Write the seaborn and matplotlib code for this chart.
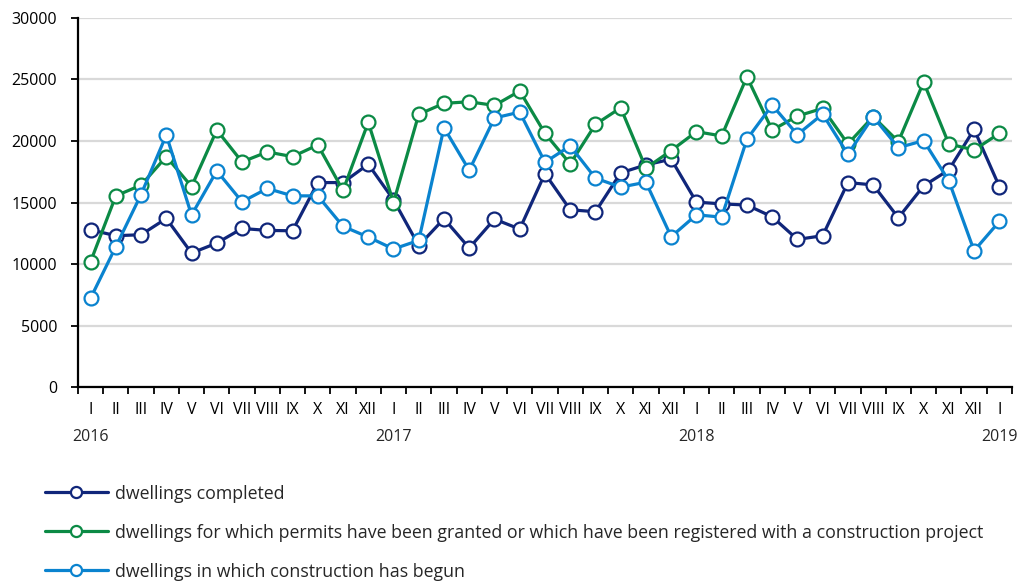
import matplotlib
matplotlib.use("Agg")
import matplotlib.pyplot as plt
import seaborn as sns
import pandas as pd
import numpy as np

sns.set_theme(style="white")
plt.rcParams["font.family"] = ["Open Sans", "DejaVu Sans"]

months = ["I", "II", "III", "IV", "V", "VI", "VII", "VIII", "IX", "X", "XI", "XII"] * 3 + ["I"]
years = ["2016", "2017", "2018", "2019"]

completed = [12780, 12300, 12380, 13700, 10890, 11700, 12890, 12730, 12700, 16620, 16620, 18110,
             15220, 11490, 13680, 11300, 13650, 12840, 17350, 14410, 14250, 17410, 18060, 18520,
             15030, 14890, 14790, 13840, 12000, 12300, 16620, 16430, 13760, 16350, 17650, 20950,
             16300]
permits = [10190, 15540, 16410, 18730, 16300, 20890, 18300, 19110, 18730, 19680, 15980, 21520,
           15000, 22170, 23060, 23190, 22890, 24060, 20620, 18140, 21350, 22700, 17790, 19220,
           20760, 20410, 25220, 20890, 22030, 22650, 19760, 21980, 19950, 24790, 19760, 19270,
           20620]
begun = [7220, 11410, 15650, 20490, 13980, 17570, 15060, 16140, 15540, 15540, 13060, 12190,
         11220, 11920, 21080, 17620, 21870, 22350, 18270, 19600, 16980, 16250, 16650, 12220,
         14000, 13810, 20140, 22920, 20520, 22190, 18920, 21980, 19460, 20030, 16760, 11080,
         13460]

labels = ["dwellings completed",
          "dwellings for which permits have been granted or which have been registered with a construction project",
          "dwellings in which construction has begun"]
colors = ["#10267a", "#0b8a45", "#0a83cf"]

idx = np.arange(len(months))
data = pd.DataFrame({"Month": idx, "Completed": completed, "Permits": permits, "Begun": begun})

fig = plt.figure(figsize=(10.19, 5.84), dpi=100)
ax = fig.add_axes([0.0765, 0.3373, 0.9166, 0.6319])

for col, label, color in zip(["Completed", "Permits", "Begun"], labels, colors):
    sns.lineplot(data=data, x="Month", y=col, ax=ax, color=color, label=label,
                 linewidth=2.3, marker="o", markersize=10, markerfacecolor="white",
                 markeredgecolor=color, markeredgewidth=1.6)

ax.set_xlim(-0.5, 36.5)
ax.set_ylim(0, 30000)
ax.set_yticks(range(0, 30001, 5000))
ax.set_xticks(idx)
ax.set_xticklabels(months, fontsize=11.5)
ax.set_xticks(np.arange(-0.5, 37, 1), minor=True)
ax.tick_params(axis="x", which="major", length=0, pad=11, colors="black")
ax.tick_params(axis="x", which="minor", length=5, width=1.3, direction="out", color="black", bottom=True)
ax.tick_params(axis="y", length=5, width=1.3, direction="out", pad=10, labelsize=11.5, colors="black", left=True)
ax.set_xlabel("")
ax.set_ylabel("")

ax.grid(axis="y", color="#d9d9d9", linewidth=1.6)
ax.set_axisbelow(True)
for s in ["top", "right"]:
    ax.spines[s].set_visible(False)
for s in ["left", "bottom"]:
    ax.spines[s].set_color("black")
    ax.spines[s].set_linewidth(1.6)

for i, yr in enumerate(years):
    ax.annotate(yr, xy=(i * 12, 0), xycoords=("data", "axes fraction"),
                xytext=(0, -30), textcoords="offset points", ha="center", va="top", fontsize=11.5)

handles, labs = ax.get_legend_handles_labels()
ax.get_legend().remove()
fig.legend(handles, labs, loc="upper left", bbox_to_anchor=(0.044, 0.17), frameon=False,
           fontsize=12.8, labelspacing=1.18, handlelength=3.55, handletextpad=0.4,
           markerscale=0.8, borderpad=0, borderaxespad=0)

fig.savefig("out.png", dpi=100)
